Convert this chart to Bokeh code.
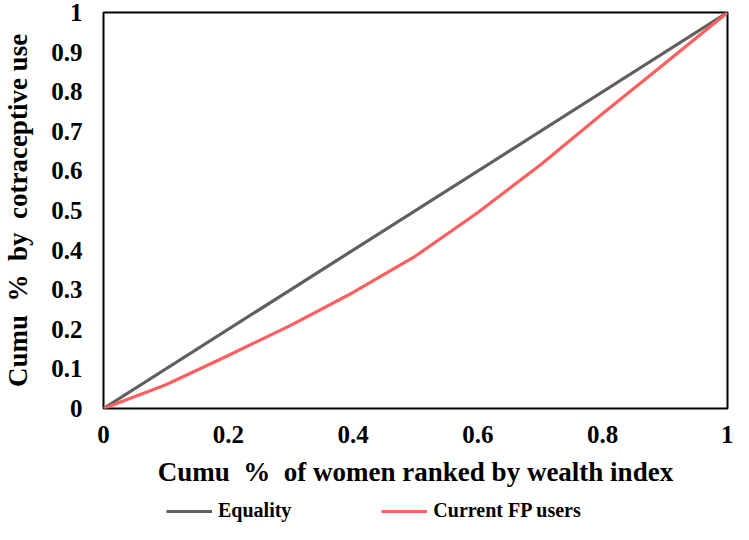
from bokeh.plotting import figure
from bokeh.models import FixedTicker, Legend, LegendItem, Range1d
from bokeh.layouts import column
from bokeh.embed import file_html
from bokeh.resources import INLINE

# data
equality_x = [0, 1]
equality_y = [0, 1]
fp_x = [0, 0.1, 0.2, 0.3, 0.4, 0.5, 0.6, 0.7, 0.8, 0.9, 1.0]
fp_y = [0, 0.06, 0.134, 0.21, 0.293, 0.385, 0.495, 0.615, 0.745, 0.872, 1.0]
x_ticks = [0, 0.2, 0.4, 0.6, 0.8, 1]
x_tick_labels = ["0", "0.2", "0.4", "0.6", "0.8", "1"]
y_ticks = [0, 0.1, 0.2, 0.3, 0.4, 0.5, 0.6, 0.7, 0.8, 0.9, 1]
y_tick_labels = ["0", "0.1", "0.2", "0.3", "0.4", "0.5", "0.6", "0.7", "0.8", "0.9", "1"]
series_names = ["Equality", "Current FP users"]
series_colors = ["#606060", "#ff5f5f"]

FONT = "Liberation Serif"
NB = "\u00a0"

p = figure(width=733, height=492, output_backend="svg", toolbar_location=None,
           x_range=Range1d(0, 1), y_range=Range1d(0, 1),
           min_border_left=98, min_border_right=6, min_border_top=12, min_border_bottom=84)

p.line(equality_x, equality_y, line_color=series_colors[0], line_width=3.2)
p.line(fp_x, fp_y, line_color=series_colors[1], line_width=3.2)

p.xgrid.visible = False
p.ygrid.visible = False
p.outline_line_color = "black"
p.outline_line_width = 2
p.outline_line_alpha = 1

for ax, ticks, labels in ((p.xaxis[0], x_ticks, x_tick_labels), (p.yaxis[0], y_ticks, y_tick_labels)):
    ax.ticker = FixedTicker(ticks=ticks)
    ax.major_label_overrides = {t: l for t, l in zip(ticks, labels)}
    ax.major_tick_line_color = None
    ax.major_tick_out = 0
    ax.major_tick_in = 0
    ax.minor_tick_line_color = None
    ax.minor_tick_out = 0
    ax.axis_line_color = None
    ax.major_label_text_font = FONT
    ax.major_label_text_font_style = "bold"
    ax.major_label_text_font_size = "25px"
    ax.major_label_text_color = "black"
    ax.axis_label_text_font = FONT
    ax.axis_label_text_font_style = "bold"
    ax.axis_label_text_color = "black"

p.xaxis.axis_label = "Cumu " + NB + "% " + NB + "of women ranked by wealth index"
p.xaxis.axis_label_text_font_size = "27px"
p.xaxis.major_label_standoff = 17
p.xaxis.axis_label_standoff = 11
p.yaxis.axis_label = "Cumu " + NB + "% " + NB + "by " + NB + "cotraceptive use"
p.yaxis.axis_label_text_font_size = "27px"
p.yaxis.major_label_standoff = 21
p.yaxis.axis_label_standoff = 15

# legend strip below the chart
lg = figure(width=733, height=32, output_backend="svg", toolbar_location=None,
            x_range=Range1d(0, 1), y_range=Range1d(0, 1),
            min_border_left=0, min_border_right=0, min_border_top=0, min_border_bottom=0)
lg.axis.visible = False
lg.grid.visible = False
lg.outline_line_color = None
items = []
for name, col, xs, ys in zip(series_names, series_colors, [equality_x, fp_x], [equality_y, fp_y]):
    r = lg.line(xs, ys, line_color=col, line_width=3.2, visible=False)
    items.append(LegendItem(label=name, renderers=[r]))

legend = Legend(items=items, orientation="horizontal", location=(63, 2),
                glyph_width=46, label_standoff=6, spacing=90,
                label_text_font=FONT, label_text_font_style="bold",
                label_text_font_size="20px", label_text_color="black",
                border_line_color=None, background_fill_alpha=0, padding=0, margin=0)
lg.add_layout(legend, "center")

layout = column(p, lg, spacing=0)
open("out.html", "w").write(file_html(layout, INLINE))
